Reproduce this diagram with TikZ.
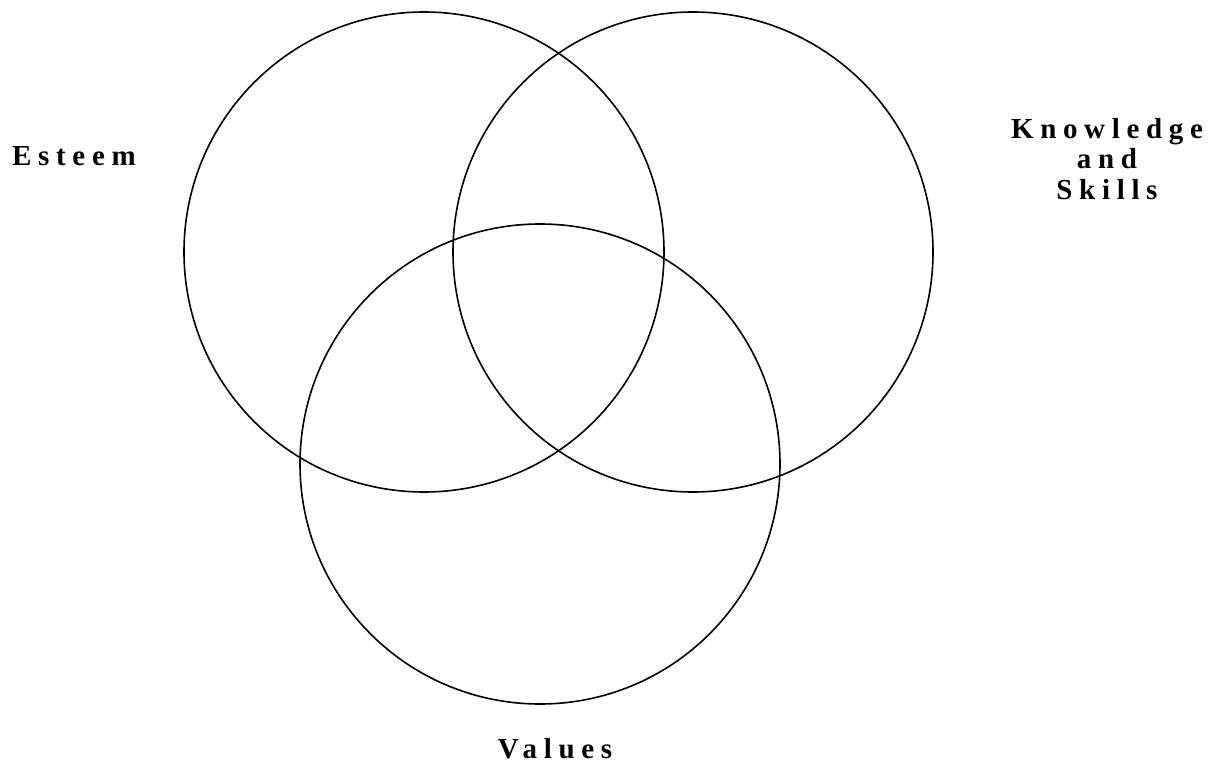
\documentclass[tikz,border=0pt]{standalone}
\usepackage{fontspec}
\setmainfont{Liberation Serif}
\newfontfamily\lblfont[LetterSpace=23]{Liberation Serif Bold}
\begin{document}
\begin{tikzpicture}[x=1pt,y=-1pt,
  circ/.style={circle, draw=black, line width=1.6pt, minimum size=480pt, inner sep=0pt, outer sep=0pt},
  lbl/.style={font=\lblfont\fontsize{29}{30.5}\selectfont, inner sep=0pt, align=center}]
\useasboundingbox[fill=white] (0,0) rectangle (1221,765);
\node[circ] (esteemc) at (424,252) {};
\node[circ] (knowc) at (693,252) {};
\node[circ] (valuesc) at (540,464) {};
\node[lbl, anchor=base west] (esteem) at (12,166) {Esteem};
\node[lbl, anchor=north] (know) at (1107,118) {Knowledge\\and\\Skills};
\node[lbl, anchor=base] (values) at (555,758) {Values};
\end{tikzpicture}
\end{document}
